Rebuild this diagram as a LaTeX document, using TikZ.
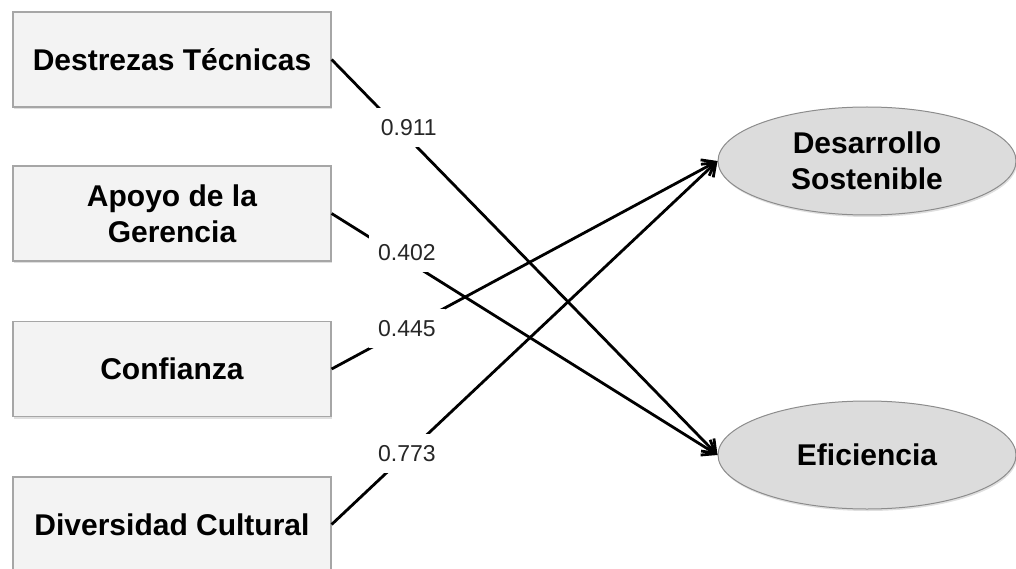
\documentclass[tikz,border=0pt]{standalone}
\usepackage{fontspec}
\setmainfont{Liberation Sans}
\usetikzlibrary{shapes.geometric,arrows.meta,shadows}
\definecolor{boxfill}{HTML}{F3F3F3}
\definecolor{boxline}{HTML}{A6A6A6}
\definecolor{ellfill}{HTML}{DCDCDC}
\definecolor{ellline}{HTML}{8C8C8C}
\tikzset{
  factor/.style={draw=boxline, line width=1.2pt, fill=boxfill, minimum width=318pt,
    minimum height=95pt, align=center, font=\fontsize{30}{36}\selectfont\bfseries,
    drop shadow={shadow xshift=1pt, shadow yshift=-2pt, opacity=0.25}},
  outcome/.style={ellipse, draw=ellline, line width=1pt, fill=ellfill, minimum width=298pt,
    minimum height=108pt, inner sep=0pt, align=center, font=\fontsize{30}{36}\selectfont\bfseries,
    drop shadow={shadow xshift=1pt, shadow yshift=-2pt, opacity=0.25}},
  path/.style={line width=2.8pt, -{Straight Barb[length=12pt, width=18pt, line width=2.8pt]}},
  coef/.style={fill=white, inner xsep=9pt, inner ysep=11pt, text=black!85,
    font=\fontsize{23}{23}\selectfont}
}
\begin{document}
\begin{tikzpicture}[x=1pt, y=-1pt]
\useasboundingbox (0,0) rectangle (1016,569);
% exogenous constructs
\node[factor] (dt) at (172,59.5) {Destrezas Técnicas};
\node[factor] (ag) at (172,213.5) {Apoyo de la\\Gerencia};
\node[factor] (cf) at (172,369) {Confianza};
\node[factor] (dc) at (172,524.5) {Diversidad Cultural};
% endogenous constructs
\node[outcome] (ds) at (867,161) {Desarrollo\\Sostenible};
\node[outcome] (ef) at (867,455) {Eficiencia};
% structural paths with coefficients
\draw[path] (dt.east) -- (ef.west) node[coef, pos=0.2, yshift=11pt] {0.911};
\draw[path] (ag.east) -- (ef.west) node[coef, pos=0.195, yshift=8pt] {0.402};
\draw[path] (cf.east) -- (ds.west) node[coef, pos=0.195] {0.445};
\draw[path] (dc.east) -- (ds.west) node[coef, pos=0.195] {0.773};
\end{tikzpicture}
\end{document}
